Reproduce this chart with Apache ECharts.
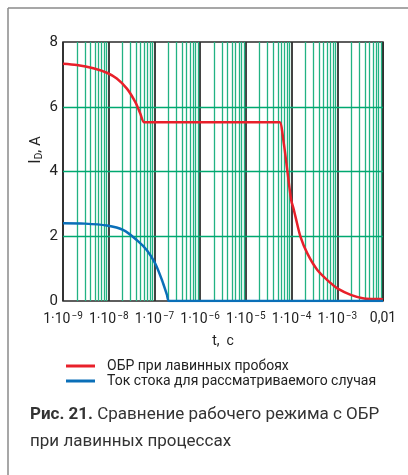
<!DOCTYPE html>
<html><head><meta charset="utf-8">
<script src="https://cdn.jsdelivr.net/npm/echarts@6/dist/echarts.min.js"></script>
<style>html,body{margin:0;padding:0;background:#fff}#c{width:408px;height:475px}</style>
</head><body><div id="c"></div>
<script>
// Data (t in seconds, I_D in amperes)
var soaT = [1e-9, 2e-9, 4.6e-9, 9.1e-9, 1.5e-8, 2.5e-8, 3.8e-8, 4.9e-8, 5.97e-8, 7e-8, 1e-6, 1e-5, 5e-5, 5.53e-5, 6.76e-5, 8.05e-5, 9.8e-5, 1.1e-4, 1.22e-4, 1.57e-4, 2.21e-4, 3.66e-4, 7.2e-4, 1e-3, 1.97e-3, 3.85e-3, 8.9e-3, 1e-2];
var soaI = [7.33, 7.29, 7.19, 7.05, 6.87, 6.56, 6.15, 5.79, 5.52, 5.52, 5.52, 5.52, 5.52, 5.52, 4.87, 4.04, 3.12, 2.86, 2.6, 1.98, 1.47, 0.96, 0.55, 0.39, 0.19, 0.08, 0.06, 0.05];
var drainT = [1e-9, 3e-9, 9.1e-9, 2.1e-8, 4.13e-8, 6.84e-8, 1.04e-7, 1.46e-7, 1.88e-7, 2.1e-7, 1e-6, 1e-4, 1e-2];
var drainI = [2.4, 2.39, 2.33, 2.19, 1.88, 1.57, 1.16, 0.65, 0.19, 0, 0, 0, 0];
var yGridVals = [2, 4, 6];
var xTickLabels = {'-9':'1·10{s|−9}','-8':'1·10{s|−8}','-7':'1·10{s|−7}','-6':'1·10{s|−6}','-5':'1·10{s|−5}','-4':'1·10{s|−4}','-3':'1·10{s|−3}','-2':'0,01'};
var seriesNames = ['ОБР при лавинных пробоях', 'Ток стока для рассматриваемого случая'];

function zip(a, b) { return a.map(function (v, i) { return [v, b[i]]; }); }
var minorLines = [];
for (var d = -9; d <= -3; d++) for (var k = 2; k <= 9; k++) {
  var v = k * Math.pow(10, d);
  minorLines.push({coords: [[v, 0], [v, 8]]});
}
var hLines = yGridVals.map(function (y) { return {coords: [[1e-9, y], [1e-2, y]]}; });

var font = 'Roboto, "Liberation Sans", sans-serif';
var chart = echarts.init(document.getElementById('c'), null, {renderer: 'canvas'});
chart.setOption({
  animation: false,
  backgroundColor: '#fff',
  grid: {left: 63, right: 25, top: 42, bottom: 174, show: true, borderColor: '#2a2a2a', borderWidth: 1.5, backgroundColor: 'transparent'},
  xAxis: {
    type: 'log', logBase: 10, min: 1e-9, max: 1e-2, splitNumber: 7,
    name: 't,  c', nameLocation: 'middle', nameGap: 33,
    nameTextStyle: {fontFamily: font, fontSize: 14, color: '#222'},
    axisLine: {show: false}, axisTick: {show: false},
    splitLine: {show: true, lineStyle: {color: '#2e2e2e', width: 1.8}},
    axisLabel: {
      margin: 10, fontFamily: font, fontSize: 14, color: '#222',
      formatter: function (v) { return xTickLabels[String(Math.round(Math.log10(v)))] || ''; },
      rich: {s: {fontFamily: font, fontSize: 10, color: '#222', verticalAlign: 'top', padding: [0, 0, 6, 1]}}
    }
  },
  yAxis: {
    type: 'value', min: 0, max: 8, interval: 2,
    axisLine: {show: false}, axisTick: {show: false},
    splitLine: {show: false},
    axisLabel: {margin: 5, fontFamily: font, fontSize: 15, color: '#222'}
  },
  legend: {
    left: 66, top: 359, orient: 'vertical', padding: 0, itemGap: 1,
    icon: 'rect', itemWidth: 29, itemHeight: 3,
    data: seriesNames,
    textStyle: {fontFamily: font, fontSize: 14, color: '#222', padding: [0, 0, 0, 7]}
  },
  series: [
    {type: 'lines', coordinateSystem: 'cartesian2d', name: 'gridV', silent: true, z: 1,
     lineStyle: {color: '#22b283', width: 1.3, opacity: 1}, data: minorLines},
    {type: 'lines', coordinateSystem: 'cartesian2d', name: 'gridH', silent: true, z: 1,
     lineStyle: {color: '#00a870', width: 1.4, opacity: 1}, data: hLines},
    {type: 'line', name: seriesNames[0], data: zip(soaT, soaI), showSymbol: false, smooth: 0.3,
     lineStyle: {color: '#e8202a', width: 2.5}, itemStyle: {color: '#e8202a'}, z: 3},
    {type: 'line', name: seriesNames[1], data: zip(drainT, drainI), showSymbol: false, smooth: 0.3,
     lineStyle: {color: '#0a6fb8', width: 2.5}, itemStyle: {color: '#0a6fb8'}, z: 4}
  ],
  graphic: [
    {type: 'line', shape: {x1: 8, y1: 8, x2: 408, y2: 8}, style: {stroke: '#8a8a8a', lineWidth: 1.5}},
    {type: 'line', shape: {x1: 8, y1: 8, x2: 8, y2: 475}, style: {stroke: '#8a8a8a', lineWidth: 1.5}},
    {type: 'text', x: 36, y: 150, rotation: Math.PI / 2,
     style: {text: '{i|I}{d|D}, A', align: 'center', verticalAlign: 'middle', fill: '#222',
       rich: {i: {fontFamily: font, fontSize: 16, fill: '#222'}, d: {fontFamily: font, fontSize: 10, fill: '#222', verticalAlign: 'bottom', padding: [6, 0, 0, 0]}},
       font: '15px ' + font}},
    {type: 'text', x: 30, y: 406,
     style: {text: '{b|Рис. 21.} Сравнение рабочего режима с ОБР', fill: '#333', font: '17px ' + font,
       rich: {b: {fontFamily: font, fontSize: 17, fontWeight: 'bold', fill: '#333'}}}},
    {type: 'text', x: 30, y: 433,
     style: {text: 'при лавинных процессах', fill: '#333', font: '17px ' + font}}
  ]
});
</script></body></html>
